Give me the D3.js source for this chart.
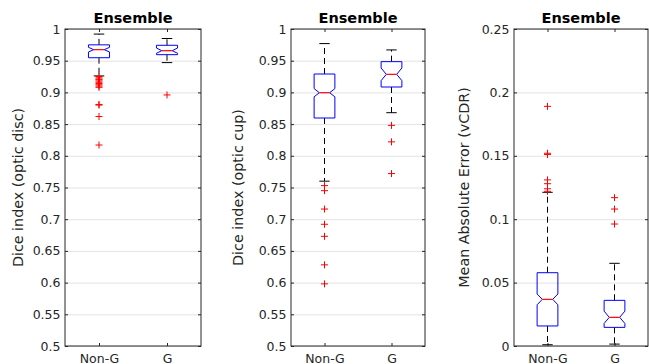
<!DOCTYPE html>
<html>
<head>
<meta charset="utf-8">
<script src="https://cdn.jsdelivr.net/npm/d3@7"></script>
<style>
  html, body { margin: 0; padding: 0; background: #fff; }
  svg { display: block; font-family: "DejaVu Sans", sans-serif; }
</style>
</head>
<body>
<svg id="chart" width="649" height="364"></svg>
<script>
// ---------- data ----------
const categories = ["Non-G", "G"];
const panelTitles = ["Ensemble", "Ensemble", "Ensemble"];
const yLabels = ["Dice index (optic disc)", "Dice index (optic cup)", "Mean Absolute Error (vCDR)"];
const diceTicks = [0.5, 0.55, 0.6, 0.65, 0.7, 0.75, 0.8, 0.85, 0.9, 0.95, 1];
const maeTicks = [0, 0.05, 0.1, 0.15, 0.2, 0.25];

// Optic disc Dice
const discWhiskerHi = [0.992, 0.985];
const discQ3        = [0.975, 0.9743];
const discNotchHi   = [0.9711, 0.970];
const discMedian    = [0.9674, 0.9658];
const discNotchLo   = [0.9637, 0.9617];
const discQ1        = [0.9547, 0.9595];
const discWhiskerLo = [0.926, 0.947];
const discOutliersNonG = [0.925, 0.923, 0.921, 0.920, 0.918, 0.916, 0.914, 0.912, 0.910, 0.908, 0.881, 0.880, 0.862, 0.817];
const discOutliersG    = [0.896];

// Optic cup Dice
const cupWhiskerHi = [0.977, 0.967];
const cupQ3        = [0.929, 0.9485];
const cupNotchHi   = [0.906, 0.9385];
const cupMedian    = [0.8995, 0.9285];
const cupNotchLo   = [0.893, 0.9185];
const cupQ1        = [0.8596, 0.9085];
const cupWhiskerLo = [0.760, 0.868];
const cupOutliersNonG = [0.753, 0.745, 0.716, 0.692, 0.673, 0.628, 0.598];
const cupOutliersG    = [0.848, 0.822, 0.772];

// vCDR mean absolute error
const maeWhiskerHi = [0.1212, 0.0652];
const maeQ3        = [0.0578, 0.0360];
const maeNotchHi   = [0.0410, 0.0275];
const maeMedian    = [0.0368, 0.0226];
const maeNotchLo   = [0.0325, 0.0178];
const maeQ1        = [0.0158, 0.0147];
const maeWhiskerLo = [0.001, 0.0015];
const maeOutliersNonG = [0.189, 0.152, 0.151, 0.131, 0.128, 0.124, 0.122];
const maeOutliersG    = [0.117, 0.108, 0.0962];

// ---------- build panels ----------
function stats(wh, q3, nh, md, nl, q1, wl, outs) {
  return categories.map((c, i) => ({
    cat: c, whiskerHi: wh[i], q3: q3[i], notchHi: nh[i], median: md[i],
    notchLo: nl[i], q1: q1[i], whiskerLo: wl[i], outliers: outs[i]
  }));
}
const panels = [
  { left: 65, right: 201, domain: [0.5, 1], ticks: diceTicks, title: panelTitles[0], ylabel: yLabels[0], labelX: 23,
    boxes: stats(discWhiskerHi, discQ3, discNotchHi, discMedian, discNotchLo, discQ1, discWhiskerLo, [discOutliersNonG, discOutliersG]) },
  { left: 291, right: 425, domain: [0.5, 1], ticks: diceTicks, title: panelTitles[1], ylabel: yLabels[1], labelX: 243,
    boxes: stats(cupWhiskerHi, cupQ3, cupNotchHi, cupMedian, cupNotchLo, cupQ1, cupWhiskerLo, [cupOutliersNonG, cupOutliersG]) },
  { left: 514, right: 648, domain: [0, 0.25], ticks: maeTicks, title: panelTitles[2], ylabel: yLabels[2], labelX: 469,
    boxes: stats(maeWhiskerHi, maeQ3, maeNotchHi, maeMedian, maeNotchLo, maeQ1, maeWhiskerLo, [maeOutliersNonG, maeOutliersG]) }
];

const plotTop = 29, plotBottom = 346;
const axisColor = "#262626";
const svg = d3.select("#chart");
const fmt = v => String(+v.toFixed(2));

panels.forEach(p => {
  const g = svg.append("g");
  const x = d3.scalePoint().domain(categories).range([p.left, p.right]).padding(0.5);
  const y = d3.scaleLinear().domain(p.domain).range([plotBottom, plotTop]);
  const W = p.right - p.left;

  // grid
  const grid = g.append("g").attr("transform", `translate(${p.left},0)`)
    .call(d3.axisLeft(y).tickValues(p.ticks).tickSize(-W).tickFormat(""));
  grid.select(".domain").remove();
  grid.selectAll("line").attr("stroke", "#e3e3e3").attr("stroke-width", 1);

  // border
  g.append("rect").attr("x", p.left).attr("y", plotTop).attr("width", W).attr("height", plotBottom - plotTop)
    .attr("fill", "none").attr("stroke", axisColor).attr("stroke-width", 1);

  // left axis
  const la = g.append("g").attr("transform", `translate(${p.left},0)`)
    .call(d3.axisLeft(y).tickValues(p.ticks).tickSizeInner(-3).tickSizeOuter(0).tickPadding(4.5).tickFormat(fmt));
  la.select(".domain").remove();
  la.selectAll("line").attr("stroke", axisColor);
  la.selectAll("text").attr("fill", axisColor).style("font-size", "12.5px").style("font-family", "DejaVu Sans");

  // right axis ticks
  const ra = g.append("g").attr("transform", `translate(${p.right},0)`)
    .call(d3.axisRight(y).tickValues(p.ticks).tickSizeInner(-3).tickSizeOuter(0).tickFormat(""));
  ra.select(".domain").remove();
  ra.selectAll("line").attr("stroke", axisColor);

  // bottom axis
  const ba = g.append("g").attr("transform", `translate(0,${plotBottom})`)
    .call(d3.axisBottom(x).tickSizeInner(-3).tickSizeOuter(0).tickPadding(8));
  ba.select(".domain").remove();
  ba.selectAll("line").attr("stroke", axisColor);
  ba.selectAll("text").attr("fill", axisColor).style("font-size", "12.5px").style("font-family", "DejaVu Sans");

  // top axis ticks
  const ta = g.append("g").attr("transform", `translate(0,${plotTop})`)
    .call(d3.axisTop(x).tickSizeInner(-3).tickSizeOuter(0).tickFormat(""));
  ta.select(".domain").remove();
  ta.selectAll("line").attr("stroke", axisColor);

  // title
  g.append("text").attr("x", (p.left + p.right) / 2).attr("y", 22.7)
    .attr("text-anchor", "middle").attr("font-weight", "bold").style("font-size", "14.5px")
    .attr("fill", "#000").text(p.title);

  // y label
  g.append("text").attr("transform", `translate(${p.labelX},${(plotTop + plotBottom) / 2}) rotate(-90)`)
    .attr("text-anchor", "middle").style("font-size", "14.3px").attr("fill", axisColor).text(p.ylabel);

  // boxes
  const hw = 0.155 * x.step();
  const capW = hw * 0.5;
  p.boxes.forEach(b => {
    const cx = x(b.cat);
    // whiskers
    g.append("line").attr("x1", cx).attr("x2", cx).attr("y1", y(b.q3)).attr("y2", y(b.whiskerHi))
      .attr("stroke", "#000").attr("stroke-dasharray", "6,4");
    g.append("line").attr("x1", cx).attr("x2", cx).attr("y1", y(b.q1)).attr("y2", y(b.whiskerLo))
      .attr("stroke", "#000").attr("stroke-dasharray", "6,4");
    [b.whiskerHi, b.whiskerLo].forEach(v => {
      g.append("line").attr("x1", cx - capW).attr("x2", cx + capW).attr("y1", y(v)).attr("y2", y(v))
        .attr("stroke", "#000");
    });
    // notched box
    const pts = [
      [cx - hw, y(b.q3)], [cx + hw, y(b.q3)], [cx + hw, y(b.notchHi)], [cx + hw / 2, y(b.median)],
      [cx + hw, y(b.notchLo)], [cx + hw, y(b.q1)], [cx - hw, y(b.q1)], [cx - hw, y(b.notchLo)],
      [cx - hw / 2, y(b.median)], [cx - hw, y(b.notchHi)]
    ];
    g.append("path").attr("d", d3.line()(pts) + "Z").attr("fill", "none")
      .attr("stroke", "#0000ff").attr("stroke-width", 1);
    // median
    g.append("line").attr("x1", cx - hw / 2).attr("x2", cx + hw / 2).attr("y1", y(b.median)).attr("y2", y(b.median))
      .attr("stroke", "#ff0000").attr("stroke-width", 1.2);
    // outliers
    b.outliers.forEach(v => {
      const yy = y(v);
      g.append("path").attr("d", `M${cx - 3.5},${yy}H${cx + 3.5}M${cx},${yy - 3.5}V${yy + 3.5}`)
        .attr("stroke", "#ff0000").attr("stroke-width", 1).attr("fill", "none");
    });
  });
});
</script>
</body>
</html>
